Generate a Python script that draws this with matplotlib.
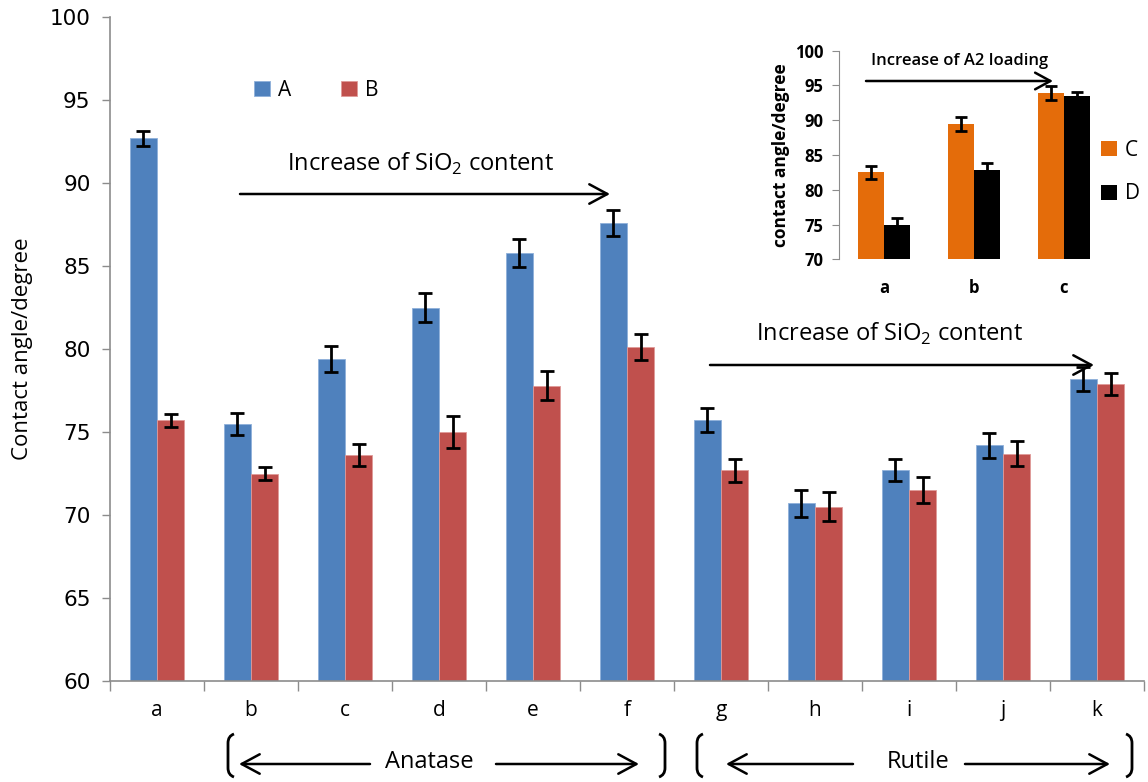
import numpy as np
import matplotlib
matplotlib.use("Agg")
import matplotlib.pyplot as plt
from matplotlib.patches import FancyArrowPatch, PathPatch
from matplotlib.path import Path

plt.rcParams['font.family'] = ['Open Sans', 'DejaVu Sans']
plt.rcParams['mathtext.fontset'] = 'custom'
plt.rcParams['mathtext.rm'] = 'Open Sans'

# main chart data
samples = ['a', 'b', 'c', 'd', 'e', 'f', 'g', 'h', 'i', 'j', 'k']
series_a = [92.7, 75.5, 79.4, 82.5, 85.8, 87.6, 75.7, 70.7, 72.7, 74.2, 78.2]
series_b = [75.7, 72.5, 73.6, 75.0, 77.8, 80.1, 72.7, 70.5, 71.5, 73.7, 77.9]
err_a = [0.45, 0.66, 0.78, 0.85, 0.85, 0.78, 0.73, 0.82, 0.67, 0.74, 0.73]
err_b = [0.38, 0.42, 0.67, 0.96, 0.88, 0.78, 0.70, 0.88, 0.78, 0.75, 0.67]

# inset data
inset_samples = ['a', 'b', 'c']
series_c = [82.5, 89.4, 93.9]
series_d = [74.9, 82.8, 93.5]
err_c = [0.9, 1.0, 1.0]
err_d = [1.0, 1.0, 0.6]

W, H = 1148, 782
fig = plt.figure(figsize=(W / 100, H / 100), dpi=100)


def px(x, y):
    # pixel position (top-left origin) -> figure fraction
    return x / W, 1 - y / H


def arrow(x0, y0, x1, y1, hl=13, hw=7, lw=1.8):
    style = '->,head_length=%s,head_width=%s' % (hl, hw)
    fig.add_artist(FancyArrowPatch(px(x0, y0), px(x1, y1), transform=fig.transFigure,
                                   arrowstyle=style, mutation_scale=1, color='black',
                                   lw=lw, shrinkA=0, shrinkB=0))


def paren(xp, top, bot, side):
    # bracket-like parenthesis, side=+1 opens to the right, -1 to the left
    d = 6 * side
    verts = [px(xp + d, top), px(xp, top + 2), px(xp, top + 9), px(xp, bot - 9),
             px(xp, bot - 2), px(xp + d, bot)]
    codes = [Path.MOVETO, Path.CURVE3, Path.CURVE3, Path.LINETO, Path.CURVE3, Path.CURVE3]
    fig.add_artist(PathPatch(Path(verts, codes), transform=fig.transFigure,
                             fill=False, lw=2, color='black'))


blue = '#4F81BD'
red = '#C0504D'
orange = '#E46C0A'
grey = '#8C8C8C'

ax = fig.add_axes([110 / W, 1 - 681 / H, 1034 / W, 664 / H])
x = np.arange(len(samples))
bw = 0.29
ekw = dict(ecolor='black', elinewidth=2, capsize=5, capthick=2)
ax.bar(x - bw / 2, series_a, bw, color=blue, edgecolor='#8FB0DA', linewidth=0.6, label='A',
       yerr=err_a, error_kw=ekw)
ax.bar(x + bw / 2, series_b, bw, color=red, edgecolor='#E09A98', linewidth=0.6, label='B',
       yerr=err_b, error_kw=ekw)
ax.set_ylim(60, 100)
ax.set_xlim(-0.5, len(samples) - 0.5)
ax.set_yticks(np.arange(60, 101, 5))
ax.set_yticklabels([str(v) for v in range(60, 101, 5)], family='DejaVu Sans', fontsize=15.5)
ax.set_xticks(x)
ax.set_xticklabels(samples, fontsize=15)
ax.set_xticks(np.arange(-0.5, len(samples), 1), minor=True)
ax.tick_params(axis='x', which='major', length=0, pad=14)
ax.tick_params(axis='x', which='minor', length=7, color=grey, width=1)
ax.tick_params(axis='y', length=6, color=grey, width=1, pad=8)
for s in ['top', 'right']:
    ax.spines[s].set_visible(False)
for s in ['left', 'bottom']:
    ax.spines[s].set_color(grey)
    ax.spines[s].set_linewidth(1.2)
ax.set_ylabel('Contact angle/degree', fontsize=16, labelpad=12)

ax.legend(loc='center left', bbox_to_anchor=px(254, 90), bbox_transform=fig.transFigure,
          ncol=2, frameon=False, fontsize=15, handlelength=0.75, handleheight=0.75,
          handletextpad=0.4, columnspacing=2.4, borderaxespad=0, borderpad=0)

# arrows and notes
fig.text(*px(421, 164), 'Increase of SiO$_2$ content', fontsize=17, ha='center', va='center')
arrow(240, 194, 610, 194)
fig.text(*px(890, 334), 'Increase of SiO$_2$ content', fontsize=17, ha='center', va='center')
arrow(710, 365, 1094, 365)

# bottom brackets
paren(228, 734, 777, 1)
paren(665, 734, 777, -1)
paren(697, 734, 777, 1)
paren(1132, 734, 777, -1)
fig.text(*px(429, 762), 'Anatase', fontsize=17, ha='center', va='center')
fig.text(*px(918, 762), 'Rutile', fontsize=17, ha='center', va='center')
arrow(370, 764, 239, 764)
arrow(496, 764, 639, 764)
arrow(853, 764, 726, 764)
arrow(965, 764, 1110, 764)

# inset
ins = fig.add_axes([839 / W, 1 - 259.3 / H, 270 / W, 208.6 / H])
xi = np.arange(len(inset_samples))
ekw_i = dict(ecolor='black', elinewidth=2, capsize=4, capthick=2)
ins.bar(xi - bw / 2, series_c, bw, color=orange, label='C', yerr=err_c, error_kw=ekw_i)
ins.bar(xi + bw / 2, series_d, bw, color='black', label='D', yerr=err_d, error_kw=ekw_i)
ins.set_ylim(70, 100)
ins.set_xlim(-0.5, 2.5)
ins.set_yticks(np.arange(70, 101, 5))
ins.set_yticklabels([str(v) for v in range(70, 101, 5)], fontsize=12, fontweight='bold')
ins.set_xticks(xi)
ins.set_xticklabels(inset_samples, fontsize=12, fontweight='bold')
ins.tick_params(axis='x', length=0, pad=14)
ins.tick_params(axis='y', length=5, color=grey, pad=6)
for s in ['top', 'right', 'bottom']:
    ins.spines[s].set_visible(False)
ins.spines['left'].set_color(grey)
ins.set_ylabel('contact angle/degree', fontsize=12.5, fontweight='bold', labelpad=4)
ins.legend(loc='center left', bbox_to_anchor=px(1101, 172), bbox_transform=fig.transFigure,
           frameon=False, fontsize=15, handlelength=0.75, handleheight=0.75,
           handletextpad=0.4, labelspacing=1.1, borderaxespad=0, borderpad=0)
fig.text(*px(960, 61), 'Increase of A2 loading', fontsize=12, fontweight='semibold',
         ha='center', va='center')
arrow(866, 81, 1053, 81, hl=11, hw=6)

fig.savefig('out.png', dpi=100)
